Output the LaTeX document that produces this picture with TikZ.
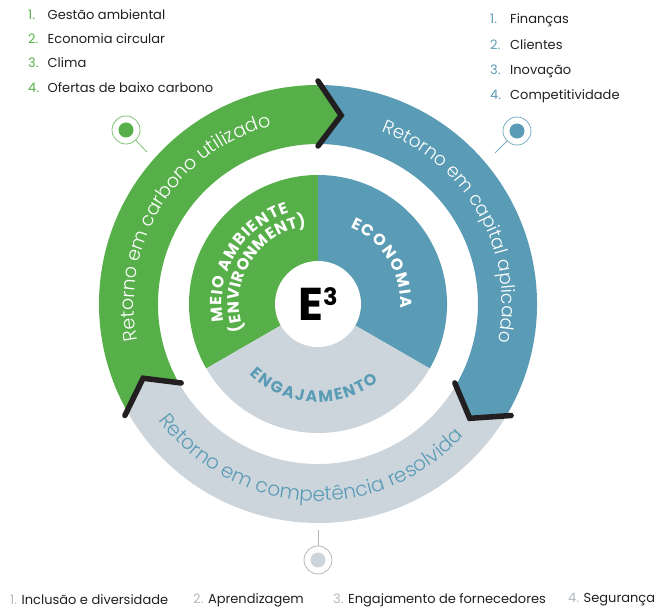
\documentclass[tikz,border=0pt]{standalone}
\usepackage{fontspec}
\setmainfont{Poppins}
\newfontfamily\ringfont{Poppins Light}
\usetikzlibrary{decorations.text}

\definecolor{envgreen}{RGB}{87,175,74}
\definecolor{ecoblue}{RGB}{90,155,181}
\definecolor{enggrey}{RGB}{205,213,220}
\definecolor{numgrey}{RGB}{178,184,190}
\definecolor{inkblack}{RGB}{35,31,32}

\begin{document}
\begin{tikzpicture}[
  x=1pt, y=1pt,
  item/.style={anchor=west, inner sep=0pt, text=inkblack, font=\fontsize{13}{15}\selectfont},
  pin/.style={circle, draw=#1, line width=0.8pt, minimum size=28pt, inner sep=0pt},
  tail/.style={draw=#1, line width=0.8pt},
  chevron/.style={draw=inkblack, line width=5.5pt, line cap=round, line join=miter},
  core/.style={circle, fill=white, minimum size=86pt, inner sep=0pt},
  sectorlabel/.style 2 args={decorate, decoration={text effects along path, text={#1}, text align=center,
    text effects/.cd,
    character widths={inner xsep=#2, font=\bfseries\fontsize{16}{16}\selectfont},
    characters={text along path, inner xsep=#2, font=\bfseries\fontsize{16}{16}\selectfont}}}
]
\useasboundingbox (0,0) rectangle (667,609);

\begin{scope}[shift={(318,305)}]
% inner pie
\fill[envgreen] (0,0) -- (90:129) arc[start angle=90, end angle=210, radius=129] -- cycle;
\fill[ecoblue] (0,0) -- (-30:129) arc[start angle=-30, end angle=90, radius=129] -- cycle;
\fill[enggrey] (0,0) -- (210:129) arc[start angle=210, end angle=330, radius=129] -- cycle;
\node[core] (core) at (0,0) {\fontsize{46}{46}\selectfont\bfseries E\raisebox{15pt}{\fontsize{24}{24}\selectfont 3}};

% outer ring
\fill[envgreen] (90:219) arc[start angle=90, end angle=210, radius=219] -- (203:190) -- (210:160)
  arc[start angle=210, end angle=90, radius=160] -- (83:190) -- cycle;
\fill[ecoblue] (-30:219) arc[start angle=-30, end angle=90, radius=219] -- (83:190) -- (90:160)
  arc[start angle=90, end angle=-30, radius=160] -- (-37:190) -- cycle;
\fill[enggrey] (-150:219) arc[start angle=-150, end angle=-30, radius=219] -- (-37:190) -- (-30:160)
  arc[start angle=-30, end angle=-150, radius=160] -- (-157:190) -- cycle;

\draw[chevron] (90:223) -- (83:190) -- (90:158);
\draw[chevron] (-30:223) -- (-37:190) -- (-30:158);
\draw[chevron] (210:223) -- (203:190) -- (210:158);

% ring labels
\path[decorate, decoration={text along path, text align=center,
  text={|\color{white}\ringfont\fontsize{19}{19}\selectfont|Retorno em carbono utilizado}}]
  (208:184) arc[start angle=208, end angle=88, radius=184];
\path[decorate, decoration={text along path, text align=center,
  text={|\color{white}\ringfont\fontsize{18.5}{18.5}\selectfont|Retorno em capital aplicado}}]
  (89:184) arc[start angle=89, end angle=-31, radius=184];
\path[decorate, decoration={text along path, text align=center,
  text={|\color{ecoblue}\ringfont\fontsize{20}{20}\selectfont|Retorno em competência resolvida}}]
  (204:197) arc[start angle=204, end angle=330, radius=197];

% sector labels
\path[sectorlabel={MEIO AMBIENTE}{0.6pt}, text=white] (200:96) arc[start angle=200, end angle=98, radius=96];
\path[sectorlabel={(ENVIRONMENT)}{0.3pt}, text=white] (215:79) arc[start angle=215, end angle=83, radius=79];
\path[sectorlabel={ECONOMIA}{0.9pt}, text=white] (80:83) arc[start angle=80, end angle=-16, radius=83];
\path[sectorlabel={ENGAJAMENTO}{0.9pt}, text=ecoblue] (222:98) arc[start angle=222, end angle=312, radius=98];
\end{scope}

% pins
\node[pin=envgreen!75] (pinEnv) at (126,479) {};
\fill[envgreen] (pinEnv.center) circle (7.5);
\coordinate (envTail) at (147,457);
\draw[tail=envgreen!75] (pinEnv) -- (envTail);

\node[pin=ecoblue!80] (pinEco) at (517,478) {};
\fill[ecoblue] (pinEco.center) circle (7.5);
\coordinate (ecoTail) at (495,456);
\draw[tail=ecoblue!80] (pinEco) -- (ecoTail);

\node[pin=numgrey] (pinEng) at (318,49) {};
\fill[enggrey] (pinEng.center) circle (7.5);
\coordinate (engTail) at (318,79);
\draw[tail=numgrey] (pinEng) -- (engTail);

% lists
\node[item] (env1) at (28,594) {\makebox[19.5pt][l]{\textcolor{envgreen}{1.}}Gestão ambiental};
\node[item] (env2) at (28,570) {\makebox[19.5pt][l]{\textcolor{envgreen}{2.}}Economia circular};
\node[item] (env3) at (28,546) {\makebox[19.5pt][l]{\textcolor{envgreen}{3.}}Clima};
\node[item] (env4) at (28,521) {\makebox[19.5pt][l]{\textcolor{envgreen}{4.}}Ofertas de baixo carbono};

\node[item] (eco1) at (490,589) {\makebox[20pt][l]{\textcolor{ecoblue}{1.}}Finanças};
\node[item] (eco2) at (490,564) {\makebox[20pt][l]{\textcolor{ecoblue}{2.}}Clientes};
\node[item] (eco3) at (490,538) {\makebox[20pt][l]{\textcolor{ecoblue}{3.}}Inovação};
\node[item] (eco4) at (490,513) {\makebox[20pt][l]{\textcolor{ecoblue}{4.}}Competitividade};

\node[item] (eng1) at (10,9) {\textcolor{numgrey}{1.} Inclusão e diversidade};
\node[item] (eng2) at (193,9) {\textcolor{numgrey}{2.} Aprendizagem};
\node[item] (eng3) at (333,9) {\textcolor{numgrey}{3.} Engajamento de fornecedores};
\node[item] (eng4) at (568,9) {\textcolor{numgrey}{4.} Segurança};
\end{tikzpicture}
\end{document}
